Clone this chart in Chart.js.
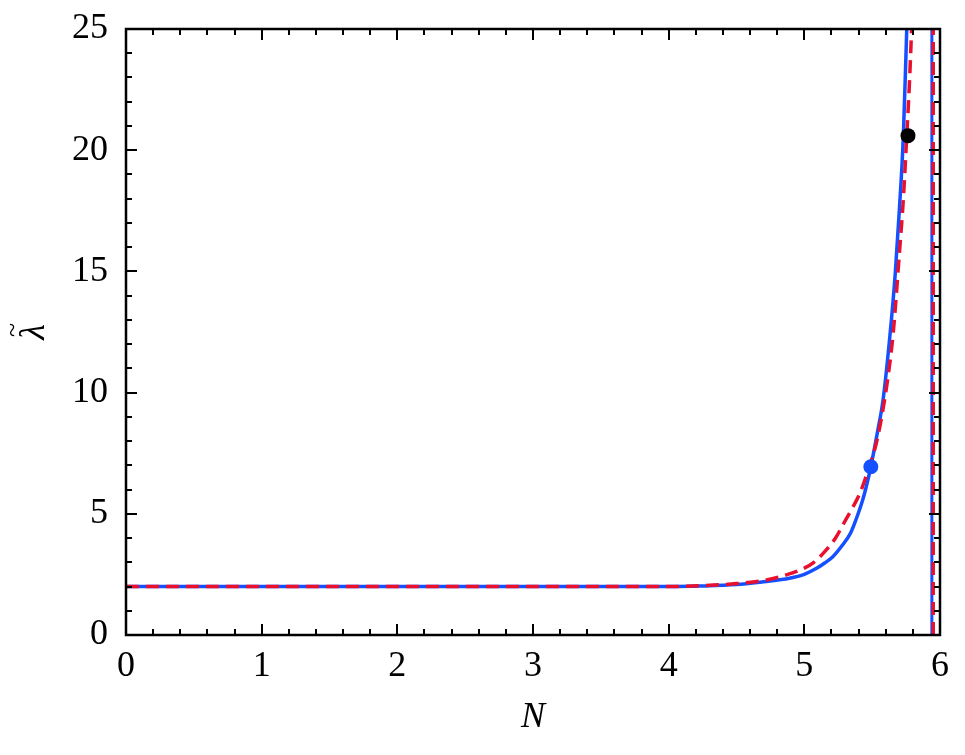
<!DOCTYPE html>
<html>
<head>
<meta charset="utf-8">
<script src="https://cdn.jsdelivr.net/npm/chart.js@4.4.1/dist/chart.umd.min.js"></script>
<style>
  html, body { margin: 0; padding: 0; background: #ffffff; }
  #wrap { width: 965px; height: 755px; }
</style>
</head>
<body>
<div id="wrap"><canvas id="c" width="965" height="755"></canvas></div>
<script>
// ---- data ----
const blueN      = [0, 1, 2, 3, 3.5, 4.0, 4.23, 4.5, 4.7, 4.89, 5.0, 5.09, 5.15, 5.21, 5.28, 5.34, 5.38, 5.43, 5.46, 5.49, 5.54, 5.58, 5.63, 5.67, 5.70, 5.73, 5.755, 5.77];
const blueLambda = [2, 2, 2, 2, 2.0, 2.0, 2.02, 2.08, 2.2, 2.34, 2.5, 2.75, 2.97, 3.23, 3.7, 4.2, 4.75, 5.57, 6.2, 6.94, 8.4, 9.69, 12.3, 14.9, 17.5, 20.6, 25, 27.5];

const redN       = [0, 1, 2, 3, 3.5, 4.0, 4.3, 4.5, 4.72, 4.85, 4.97, 5.07, 5.16, 5.23, 5.29, 5.35, 5.41, 5.47, 5.53, 5.57, 5.61, 5.655, 5.70, 5.73, 5.755, 5.775, 5.79, 5.80];
const redLambda  = [2, 2, 2, 2, 2.0, 2.0, 2.05, 2.12, 2.27, 2.45, 2.68, 3.0, 3.5, 4.0, 4.6, 5.2, 5.85, 6.8, 7.9, 9.0, 10.38, 12.45, 15.7, 18.0, 20.6, 22.8, 24.9, 26.5];

const blueAsymptoteN = [5.94, 5.94];
const redAsymptoteN  = [5.95, 5.95];
const asymptoteLambda = [0, 25];

const bluePoint  = { N: 5.49, lambda: 6.94 };
const blackPoint = { N: 5.764, lambda: 20.6 };

const xTickLabels = [0, 1, 2, 3, 4, 5, 6];
const yTickLabels = [0, 5, 10, 15, 20, 25];
const xTitle = 'N';
const yTitleBase = 'λ';
const yTitleAccent = '~';

// ---- build datasets ----
const toXY = (xs, ys) => xs.map((x, i) => ({ x: x, y: ys[i] }));
const BLUE = '#1450FF';
const RED = '#E8102E';

const FONT = "'Liberation Serif', 'DejaVu Serif', serif";

const frameTicks = {
  id: 'frameTicks',
  afterDatasetsDraw(chart) {
    const { ctx, chartArea: a, scales } = chart;
    const xs = scales.x, ys = scales.y;
    ctx.save();
    ctx.strokeStyle = '#000';
    ctx.lineCap = 'butt';
    ctx.lineWidth = 2;
    const xMin = xTickLabels[0], xMax = xTickLabels[xTickLabels.length - 1];
    for (let k = 0; k <= (xMax - xMin) * 5; k++) {
      const v = xMin + k * 0.2;
      const major = k % 5 === 0;
      const len = major ? 11 : 6;
      const px = Math.round(xs.getPixelForValue(v));
      ctx.beginPath();
      ctx.moveTo(px, a.bottom); ctx.lineTo(px, a.bottom - len);
      ctx.moveTo(px, a.top); ctx.lineTo(px, a.top + len);
      ctx.stroke();
    }
    const yMin = yTickLabels[0], yMax = yTickLabels[yTickLabels.length - 1];
    for (let v = yMin; v <= yMax; v += 1) {
      const major = v % 5 === 0;
      const len = major ? 11 : 6;
      const py = Math.round(ys.getPixelForValue(v));
      ctx.beginPath();
      ctx.moveTo(a.left, py); ctx.lineTo(a.left + len, py);
      ctx.moveTo(a.right, py); ctx.lineTo(a.right - len, py);
      ctx.stroke();
    }
    ctx.lineWidth = 2.5;
    ctx.strokeRect(a.left, a.top, a.right - a.left, a.bottom - a.top);

    // y-axis title: rotated lambda with tilde accent
    const cy = (a.top + a.bottom) / 2;
    ctx.fillStyle = '#000';
    ctx.translate(44, cy);
    ctx.rotate(-Math.PI / 2);
    ctx.textAlign = 'center';
    ctx.textBaseline = 'alphabetic';
    ctx.font = 'italic 36px ' + FONT;
    ctx.fillText(yTitleBase, 0, 0);
    ctx.font = '26px ' + FONT;
    ctx.fillText(yTitleAccent, 2, -24);
    ctx.restore();
  }
};

new Chart(document.getElementById('c'), {
  type: 'scatter',
  data: {
    datasets: [
      { data: toXY(blueAsymptoteN, asymptoteLambda), showLine: true, borderColor: BLUE, borderWidth: 3, pointRadius: 0, order: 6 },
      { data: toXY(blueN, blueLambda), showLine: true, borderColor: BLUE, borderWidth: 3.5, pointRadius: 0, cubicInterpolationMode: 'monotone', order: 5 },
      { data: toXY(redAsymptoteN, asymptoteLambda), showLine: true, borderColor: RED, borderWidth: 3.5, borderDash: [13, 7], pointRadius: 0, order: 4 },
      { data: toXY(redN, redLambda), showLine: true, borderColor: RED, borderWidth: 3.5, borderDash: [13, 7], pointRadius: 0, cubicInterpolationMode: 'monotone', order: 3 },
      { data: [{ x: bluePoint.N, y: bluePoint.lambda }], showLine: false, pointRadius: 7.5, backgroundColor: BLUE, borderWidth: 0, order: 2, clip: false },
      { data: [{ x: blackPoint.N, y: blackPoint.lambda }], showLine: false, pointRadius: 7.5, backgroundColor: '#000', borderWidth: 0, order: 1, clip: false }
    ]
  },
  options: {
    responsive: false,
    animation: false,
    events: [],
    layout: { padding: { top: 29, right: 25, left: 0, bottom: 0 } },
    plugins: { legend: { display: false }, tooltip: { enabled: false }, title: { display: false } },
    scales: {
      x: {
        type: 'linear', min: 0, max: 6,
        afterFit(s) { s.height = 120; s.paddingLeft = 0; s.paddingRight = 0; },
        afterBuildTicks(s) { s.ticks = xTickLabels.map(v => ({ value: v })); },
        grid: { display: false, drawTicks: false },
        border: { display: false },
        ticks: { color: '#000', font: { family: FONT, size: 36 }, padding: 10, autoSkip: false, maxRotation: 0 },
        title: { display: true, text: xTitle, color: '#000', font: { family: FONT, size: 36, style: 'italic' }, padding: { top: 0, bottom: 16 } }
      },
      y: {
        type: 'linear', min: 0, max: 25,
        afterFit(s) { s.width = 126; s.paddingTop = 0; s.paddingBottom = 0; },
        afterBuildTicks(s) { s.ticks = yTickLabels.map(v => ({ value: v })); },
        grid: { display: false, drawTicks: false },
        border: { display: false },
        ticks: { color: '#000', font: { family: FONT, size: 36 }, padding: 18, autoSkip: false },
        title: { display: false }
      }
    }
  },
  plugins: [frameTicks]
});
</script>
</body>
</html>
